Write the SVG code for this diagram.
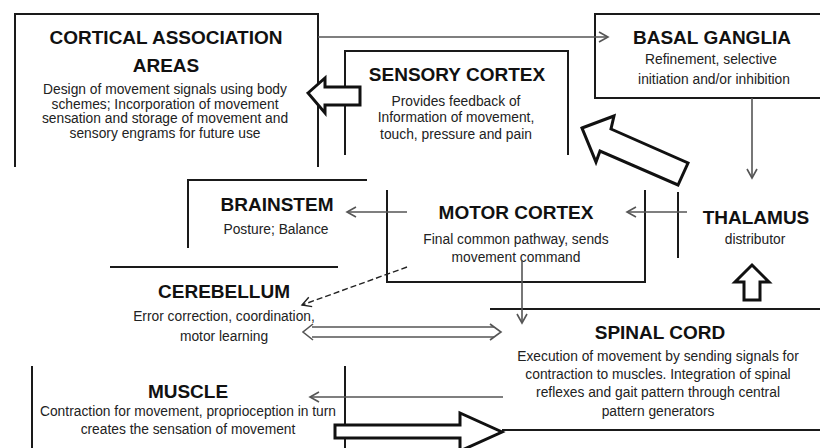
<svg xmlns="http://www.w3.org/2000/svg" width="820" height="448" viewBox="0 0 820 448">
<defs>
<marker id="chev" markerWidth="12" markerHeight="12" refX="10" refY="6" orient="auto" markerUnits="userSpaceOnUse">
<path d="M1,1 L10,6 L1,11" fill="none" stroke="#555" stroke-width="1.6"/>
</marker>
<marker id="chevd" markerWidth="12" markerHeight="12" refX="10" refY="6" orient="auto" markerUnits="userSpaceOnUse">
<path d="M1,1 L10,6 L1,11" fill="none" stroke="#222" stroke-width="1.4"/>
</marker>
</defs>
<style>
.box{fill:none;stroke:#1a1a1a;stroke-width:2}
.t{font-family:"Liberation Sans",Arial,sans-serif;font-weight:bold;font-size:19px;fill:#111;text-anchor:middle}
.b{font-family:"Liberation Sans",Arial,sans-serif;font-size:13.8px;fill:#222;text-anchor:middle}
.c{fill:none;stroke:#555;stroke-width:1.6}
.blk{fill:#fff;stroke:#111;stroke-width:3;stroke-linejoin:miter}
</style>
<rect width="820" height="448" fill="#fff"/>

<g id="cortical-association">
<path class="box" d="M15,167 V14 H318 V167"/>
<text class="t" x="166" y="44">CORTICAL ASSOCIATION</text>
<text class="t" x="166" y="72">AREAS</text>
<text class="b" x="165" y="94">Design of movement signals using body</text>
<text class="b" x="165" y="108.5">schemes; Incorporation of movement</text>
<text class="b" x="165" y="123">sensation and storage of movement and</text>
<text class="b" x="165" y="137.5">sensory engrams for future use</text>
</g>

<g id="sensory-cortex">
<path class="box" d="M345,155 V51 H568 V155"/>
<text class="t" x="457" y="81">SENSORY CORTEX</text>
<text class="b" x="456" y="106">Provides feedback of</text>
<text class="b" x="456" y="122">Information of movement,</text>
<text class="b" x="456" y="139">touch, pressure and pain</text>
</g>

<g id="basal-ganglia">
<path class="box" d="M822,14 H595 V98 H822"/>
<text class="t" x="712" y="44">BASAL GANGLIA</text>
<text class="b" x="711" y="64">Refinement, selective</text>
<text class="b" x="714" y="84">initiation and/or inhibition</text>
</g>

<g id="brainstem">
<path class="box" d="M188,248 V180 H367"/>
<text class="t" x="277" y="211">BRAINSTEM</text>
<text class="b" x="276" y="234">Posture; Balance</text>
</g>

<g id="motor-cortex">
<path class="box" d="M387,190 V282 H645 V190"/>
<text class="t" x="516" y="219">MOTOR CORTEX</text>
<text class="b" x="516" y="244">Final common pathway, sends</text>
<text class="b" x="516" y="262">movement command</text>
</g>

<g id="thalamus">
<path class="box" d="M678,192 V258"/>
<text class="t" x="756" y="224">THALAMUS</text>
<text class="b" x="755" y="244">distributor</text>
</g>

<g id="cerebellum">
<path class="box" d="M110,267 H338"/>
<text class="t" x="224" y="298">CEREBELLUM</text>
<text class="b" x="224" y="321">Error correction, coordination,</text>
<text class="b" x="224" y="341">motor learning</text>
</g>

<g id="spinal-cord">
<path class="box" d="M490,309 H822 M502,430 H822"/>
<text class="t" x="660" y="339">SPINAL CORD</text>
<text class="b" x="658" y="361">Execution of movement by sending signals for</text>
<text class="b" x="658" y="379">contraction to muscles. Integration of spinal</text>
<text class="b" x="658" y="397">reflexes and gait pattern through central</text>
<text class="b" x="658" y="416">pattern generators</text>
</g>

<g id="muscle">
<path class="box" d="M32,366 V450 M345,366 V450"/>
<text class="t" x="188" y="398">MUSCLE</text>
<text class="b" x="188" y="416">Contraction for movement, proprioception in turn</text>
<text class="b" x="188" y="434">creates the sensation of movement</text>
</g>

<g id="connectors">
<line class="c" x1="318" y1="37" x2="608" y2="37" marker-end="url(#chev)"/>
<line class="c" x1="752" y1="98" x2="752" y2="178" marker-end="url(#chev)"/>
<line class="c" x1="687" y1="212" x2="627" y2="212" marker-end="url(#chev)"/>
<line class="c" x1="407" y1="212" x2="347" y2="212" marker-end="url(#chev)"/>
<line class="c" x1="522" y1="260" x2="522" y2="323" marker-end="url(#chev)"/>
<line x1="407" y1="267" x2="302" y2="305" stroke="#222" stroke-width="1.4" stroke-dasharray="6,3" marker-end="url(#chevd)"/>
<line class="c" x1="312" y1="327" x2="494" y2="327"/>
<line class="c" x1="312" y1="337" x2="494" y2="337"/>
<path class="c" d="M313,324 L303,332 L313,340 M490,324 L501,332 L490,340"/>
<line class="c" x1="503" y1="397" x2="310" y2="397" marker-end="url(#chev)"/>
<polygon class="blk" points="308,93 325,78 325,87 360,87 360,105 325,105 325,113"/>
<polygon class="blk" points="582,128 614,116 611,129 688,163 678,185 600,151 596,162"/>
<polygon class="blk" points="752,265 769,282 760,282 760,300 744,300 744,282 735,282"/>
<polygon class="blk" points="335,425 460,425 460,413 502,432 460,451 460,438 335,438"/>
</g>
</svg>
